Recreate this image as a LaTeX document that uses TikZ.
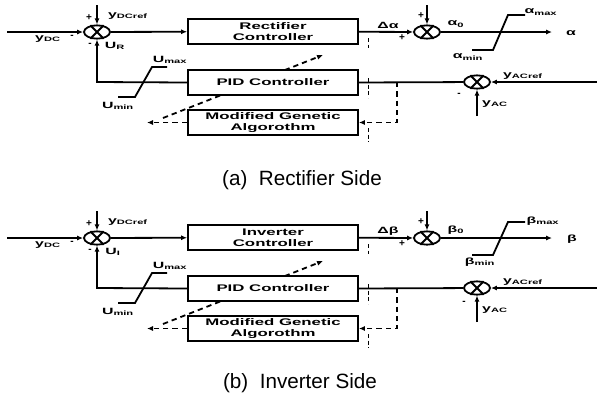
\documentclass[tikz,border=0pt]{standalone}
\usepackage{fontspec}
\setmainfont{Liberation Sans}
\newfontfamily\blockfont[FakeStretch=1.75]{Liberation Sans}
\usetikzlibrary{arrows.meta,shapes.geometric}

\begin{document}
\begin{tikzpicture}[x=0.75pt, y=-0.75pt, line width=1.35pt,
  blk/.style={draw, fill=white, minimum width=127.5pt, minimum height=18.75pt, inner sep=0pt, align=center,
    font={\blockfont\bfseries\fontsize{7.2}{8.6}\selectfont}},
  sumj/.style={draw, ellipse, fill=white, minimum width=19.5pt, minimum height=10pt, inner sep=0pt},
  lbl/.style={inner sep=0pt, font={\blockfont\bfseries\fontsize{6.8}{7}\selectfont}},
  sgn/.style={inner sep=0pt, font={\bfseries\fontsize{7.5}{7.5}\selectfont}},
  sig/.style={-{Latex[length=4.5pt,width=3.8pt]}},
  tune/.style={dash pattern=on 4pt off 3pt},
  capt/.style={inner sep=0pt, font={\fontsize{15.5}{18}\selectfont}}]
\useasboundingbox (0,0) rectangle (597,401);

% (a) rectifier side
\coordinate (ain) at (7,32);
\coordinate (aref) at (97,5);
\coordinate (afb) at (97,82);
\coordinate (aref2) at (427,5);
\coordinate (aout) at (552,32);
\coordinate (aacref) at (597,82);
\coordinate (aac) at (477,116);
\coordinate (atap) at (397,82);
\coordinate (aga) at (147,122.5);
\coordinate (atn1) at (163,118);
\coordinate (atn2) at (323,55);
\draw[tune,sig] (atn1) -- (atn2);
\node[sumj] (as1) at (97,32) {};
\node[blk] (arc) at (273,31.5) {Rectifier\\Controller};
\node[blk] (apid) at (273,82.5) {PID Controller};
\node[blk] (amga) at (273,122.5) {Modified Genetic\\Algorothm};
\node[sumj] (as2) at (427,32) {};
\node[sumj] (as3) at (477,82) {};
\draw (as1.45) -- (as1.225) (as1.135) -- (as1.315);
\draw (as2.45) -- (as2.225) (as2.135) -- (as2.315);
\draw (as3.45) -- (as3.225) (as3.135) -- (as3.315);
\draw[sig] (ain) -- (as1);
\draw[sig] (aref) -- (as1);
\draw[sig] (as1) -- (arc);
\draw[sig] (apid.west) -- (afb) -- (as1.south);
\draw[sig] (arc) -- (as2);
\draw[sig] (aref2) -- (as2);
\draw[sig] (as2) -- (aout);
\draw (as3) -- (apid.east);
\draw[sig] (aacref) -- (as3);
\draw[sig] (aac) -- (as3);
\draw[tune,sig] (atap) |- (amga.east);
\draw[tune,sig] (amga.west) -- (aga);
\draw (118,97) -- (135,97) -- (152,67) -- (167,67);
\draw (472,50) -- (493,50) -- (508,15) -- (525,15);
\draw[densely dashed, line width=0.5pt] (368,38) -- (368,48) (368,78) -- (368,98) (368,128) -- (368,142);
\node[lbl] (aydc) at (48,39) {y\textsubscript{DC}};
\node[sgn] (am1) at (72,37) {-};
\node[sgn] (ap1) at (89,18) {+};
\node[lbl] (aydcref) at (128,16) {y\textsubscript{DCref}};
\node[sgn] (am2) at (90,45) {-};
\node[lbl] (aur) at (115,46) {U\textsubscript{R}};
\node[lbl] (aumax) at (170,60) {U\textsubscript{max}};
\node[lbl] (aumin) at (118,106) {U\textsubscript{min}};
\node[lbl] (adal) at (388,25) {Δα};
\node[sgn] (ap2) at (402,38) {+};
\node[sgn] (ap3) at (421,16) {+};
\node[lbl] (aal0) at (456,24) {α\textsubscript{0}};
\node[lbl] (aalmax) at (541,12) {α\textsubscript{max}};
\node[lbl] (aalmin) at (468,57) {α\textsubscript{min}};
\node[lbl] (aal) at (571,33) {α};
\node[lbl] (ayacref) at (523,76) {y\textsubscript{ACref}};
\node[lbl] (ayac) at (495,104) {y\textsubscript{AC}};
\node[sgn] (am3) at (459,95) {-};
\node[capt] (acap) at (302,180) {(a)\ \ Rectifier Side};

% (b) inverter side
\begin{scope}[shift={(0,206)}]
\coordinate (bin) at (7,32);
\coordinate (bref) at (97,5);
\coordinate (bfb) at (97,82);
\coordinate (bref2) at (427,5);
\coordinate (bout) at (552,32);
\coordinate (bacref) at (597,82);
\coordinate (bac) at (477,116);
\coordinate (btap) at (397,82);
\coordinate (bga) at (147,122.5);
\coordinate (btn1) at (163,118);
\coordinate (btn2) at (323,55);
\draw[tune,sig] (btn1) -- (btn2);
\node[sumj] (bs1) at (97,32) {};
\node[blk] (bic) at (273,31.5) {Inverter\\Controller};
\node[blk] (bpid) at (273,82.5) {PID Controller};
\node[blk] (bmga) at (273,122.5) {Modified Genetic\\Algorothm};
\node[sumj] (bs2) at (427,32) {};
\node[sumj] (bs3) at (477,82) {};
\draw (bs1.45) -- (bs1.225) (bs1.135) -- (bs1.315);
\draw (bs2.45) -- (bs2.225) (bs2.135) -- (bs2.315);
\draw (bs3.45) -- (bs3.225) (bs3.135) -- (bs3.315);
\draw[sig] (bin) -- (bs1);
\draw[sig] (bref) -- (bs1);
\draw[sig] (bs1) -- (bic);
\draw[sig] (bpid.west) -- (bfb) -- (bs1.south);
\draw[sig] (bic) -- (bs2);
\draw[sig] (bref2) -- (bs2);
\draw[sig] (bs2) -- (bout);
\draw (bs3) -- (bpid.east);
\draw[sig] (bacref) -- (bs3);
\draw[sig] (bac) -- (bs3);
\draw[tune,sig] (btap) |- (bmga.east);
\draw[tune,sig] (bmga.west) -- (bga);
\draw (118,97) -- (135,97) -- (152,67) -- (167,67);
\draw (472,49) -- (493,49) -- (508,16) -- (525,16);
\draw[densely dashed, line width=0.5pt] (368,38) -- (368,48) (368,78) -- (368,98) (368,128) -- (368,142);
\node[lbl] (bydc) at (48,39) {y\textsubscript{DC}};
\node[sgn] (bm1) at (72,37) {-};
\node[sgn] (bp1) at (89,18) {+};
\node[lbl] (bydcref) at (128,16) {y\textsubscript{DCref}};
\node[sgn] (bm2) at (90,45) {-};
\node[lbl] (bui) at (113,46) {U\textsubscript{I}};
\node[lbl] (bumax) at (170,60) {U\textsubscript{max}};
\node[lbl] (bumin) at (118,106) {U\textsubscript{min}};
\node[lbl] (bdbe) at (388,25) {Δβ};
\node[sgn] (bp2) at (402,38) {+};
\node[sgn] (bp3) at (421,16) {+};
\node[lbl] (bbe0) at (456,24) {β\textsubscript{0}};
\node[lbl] (bbemax) at (543,15) {β\textsubscript{max}};
\node[lbl] (bbemin) at (480,56) {β\textsubscript{min}};
\node[lbl] (bbe) at (572,33) {β};
\node[lbl] (byacref) at (523,76) {y\textsubscript{ACref}};
\node[lbl] (byac) at (495,104) {y\textsubscript{AC}};
\node[sgn] (bm3) at (464,97) {-};
\node[capt] (bcap) at (300,177) {(b)\ \ Inverter Side};
\end{scope}
\end{tikzpicture}
\end{document}
